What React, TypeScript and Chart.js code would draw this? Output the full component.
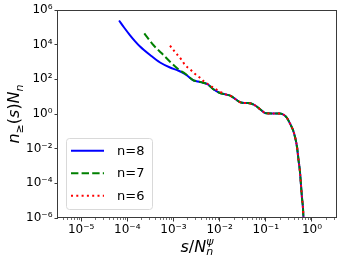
import React, { useEffect, useRef } from 'react';
import { Chart, registerables } from 'chart.js';

Chart.register(...registerables);

// ---- data ----
const seriesLabels = ['n=8', 'n=7', 'n=6'];
const seriesColors = ['#0000ff', '#008000', '#ff0000'];

// shared tail where all three curves coincide
const tailX = [2.65e-3, 3.40e-3, 4.38e-3, 5.61e-3, 7.19e-3, 1.02e-2, 1.38e-2, 1.77e-2, 2.26e-2, 2.90e-2, 3.72e-2, 4.79e-2, 6.14e-2, 7.87e-2, 0.101, 0.136, 0.203, 0.248, 0.288, 0.334, 0.388, 0.429, 0.473, 0.511, 0.550, 0.578, 0.608, 0.638, 0.671];
const tailY = [91.4, 74.8, 63.8, 50.2, 27.6, 16.3, 13.3, 10.9, 6.85, 4.59, 4.31, 4.03, 2.88, 1.70, 1.09, 1.07, 1.07, 0.873, 0.586, 0.282, 0.119, 0.047, 0.0129, 2.21e-3, 4.49e-4, 7.98e-5, 1.42e-5, 3.76e-6, 2.0e-7];

const n8HeadX = [6.65e-5, 8.53e-5, 1.15e-4, 1.48e-4, 1.89e-4, 3.12e-4, 5.13e-4, 8.43e-4, 1.26e-3, 1.53e-3, 1.97e-3];
const n8HeadY = [2.48e5, 9.78e4, 3.47e4, 1.56e4, 7.83e3, 2.53e3, 935, 481, 323, 254, 166];

const n7HeadX = [2.34e-4, 3.67e-4, 5.58e-4, 8.43e-4, 1.28e-3, 1.78e-3];
const n7HeadY = [4.53e4, 9.55e3, 3.17e3, 1.04e3, 378, 217];

const n6HeadX = [8.43e-4, 1.08e-3, 1.51e-3, 1.78e-3, 2.29e-3, 2.83e-3, 3.64e-3, 4.67e-3, 5.98e-3, 7.67e-3, 1.02e-2];
const n6HeadY = [8.71e3, 3.77e3, 1.30e3, 670, 378, 222, 131, 72.9, 47.0, 30.3, 19.3];
const n6TailStart = 6;

const xTickExponents = [-5, -4, -3, -2, -1, 0];
const yTickExponents = [-6, -4, -2, 0, 2, 4, 6];
const X_MIN = Math.pow(10, -5.5);
const X_MAX = Math.pow(10, 0.52);
const Y_MIN = 1e-6;
const Y_MAX = 1e6;

const SUP: Record<string, string> = { '-': '\u207B', '0': '\u2070', '1': '\u00B9', '2': '\u00B2', '3': '\u00B3', '4': '\u2074', '5': '\u2075', '6': '\u2076', '7': '\u2077', '8': '\u2078', '9': '\u2079' };
const pow10Label = (e: number) => '10' + String(e).split('').map((c) => SUP[c]).join('');
const expOf = (v: number): number | null => {
  const l = Math.log10(v);
  const r = Math.round(l);
  return Math.abs(l - r) < 1e-6 ? r : null;
};

const pts = (xs: number[], ys: number[]) => xs.map((x, i) => ({ x, y: ys[i] }));

const FRAME = '#3a3a3a';
const FONT = 'DejaVu Sans';

type Seg = { t: string; size: number; italic?: boolean; dy?: number; stackWithPrev?: boolean };

function drawRich(ctx: CanvasRenderingContext2D, segs: Seg[], cx: number, baseline: number) {
  const fontOf = (s: Seg) => `${s.italic ? 'italic ' : ''}${s.size}px "${FONT}"`;
  const widths = segs.map((s) => { ctx.font = fontOf(s); return ctx.measureText(s.t).width; });
  let total = 0;
  segs.forEach((s, i) => {
    if (s.stackWithPrev) total += Math.max(0, widths[i] - widths[i - 1]);
    else total += widths[i];
  });
  let x = cx - total / 2;
  let prevX = x;
  segs.forEach((s, i) => {
    ctx.font = fontOf(s);
    if (s.stackWithPrev) {
      ctx.fillText(s.t, prevX, baseline + (s.dy || 0));
      x = Math.max(x, prevX + widths[i]);
    } else {
      ctx.fillText(s.t, x, baseline + (s.dy || 0));
      prevX = x;
      x += widths[i];
    }
  });
}

const decorPlugin = {
  id: 'decor',
  afterDraw(chart: any) {
    const { ctx, chartArea: a, scales } = chart;
    ctx.save();
    // frame
    ctx.strokeStyle = FRAME;
    ctx.lineWidth = 1;
    ctx.strokeRect(a.left - 0.5, a.top + 0.5, a.right - a.left + 1, a.bottom - a.top - 1);

    // minor x ticks
    ctx.lineWidth = 0.7;
    for (let k = -6; k <= 1; k++) {
      for (let m = 2; m <= 9; m++) {
        const v = m * Math.pow(10, k);
        if (v < X_MIN || v > X_MAX) continue;
        const px = Math.round(scales.x.getPixelForValue(v)) + 0.5;
        ctx.beginPath();
        ctx.moveTo(px, a.bottom);
        ctx.lineTo(px, a.bottom + 2);
        ctx.stroke();
      }
    }

    // legend
    const lx = a.left + 8;
    const lw = 86;
    const lh = 71;
    const ly = a.bottom - 9 - lh;
    ctx.beginPath();
    ctx.roundRect(lx + 0.5, ly + 0.5, lw, lh, 3);
    ctx.fillStyle = 'rgba(255,255,255,0.8)';
    ctx.fill();
    ctx.strokeStyle = '#d9d9d9';
    ctx.lineWidth = 1;
    ctx.stroke();
    const dashes = [[], [7.4, 3.2], [2, 3.3]];
    seriesLabels.forEach((lab, i) => {
      const yy = ly + 12.7 + i * 22.5;
      ctx.beginPath();
      ctx.setLineDash(dashes[i]);
      ctx.strokeStyle = seriesColors[i];
      ctx.lineWidth = 2;
      ctx.moveTo(lx + 5, yy);
      ctx.lineTo(lx + 38, yy);
      ctx.stroke();
      ctx.setLineDash([]);
      ctx.fillStyle = '#000';
      ctx.font = `13px "${FONT}"`;
      ctx.textBaseline = 'middle';
      ctx.textAlign = 'left';
      ctx.fillText(lab, lx + 51, yy + 0.5);
    });

    // axis titles
    ctx.fillStyle = '#000';
    ctx.textBaseline = 'alphabetic';
    ctx.textAlign = 'left';
    drawRich(ctx, [
      { t: 's', size: 16, italic: true },
      { t: '/', size: 16 },
      { t: 'N', size: 16, italic: true },
      { t: '\u03C8', size: 11, italic: true, dy: -7 },
      { t: 'n', size: 11, italic: true, dy: 3.5, stackWithPrev: true },
    ], (a.left + a.right) / 2, 251.5);

    ctx.save();
    ctx.translate(19, (a.top + a.bottom) / 2);
    ctx.rotate(-Math.PI / 2);
    drawRich(ctx, [
      { t: 'n', size: 16, italic: true },
      { t: '\u2265', size: 11, dy: 3.5 },
      { t: '(', size: 16 },
      { t: 's', size: 16, italic: true },
      { t: ')', size: 16 },
      { t: 'N', size: 16, italic: true },
      { t: 'n', size: 11, italic: true, dy: 3.5 },
    ], 0, 0);
    ctx.restore();

    ctx.restore();
  },
};

export default function App() {
  const ref = useRef<HTMLCanvasElement>(null);
  useEffect(() => {
    const datasets = [
      { label: seriesLabels[0], data: pts(n8HeadX.concat(tailX), n8HeadY.concat(tailY)), borderColor: seriesColors[0], borderDash: [], order: 3 },
      { label: seriesLabels[1], data: pts(n7HeadX.concat(tailX), n7HeadY.concat(tailY)), borderColor: seriesColors[1], borderDash: [7.4, 3.2], order: 2 },
      { label: seriesLabels[2], data: pts(n6HeadX.concat(tailX.slice(n6TailStart)), n6HeadY.concat(tailY.slice(n6TailStart))), borderColor: seriesColors[2], borderDash: [2, 3.3], order: 1 },
    ].map((d) => ({ ...d, showLine: true, pointRadius: 0, borderWidth: 2, fill: false, cubicInterpolationMode: 'monotone' as const }));

    const chart = new Chart(ref.current!, {
      type: 'scatter',
      data: { datasets },
      options: {
        responsive: false,
        animation: false,
        devicePixelRatio: 1,
        layout: { padding: { left: 0, top: 10, right: 6, bottom: 0 } },
        plugins: { legend: { display: false }, tooltip: { enabled: false } },
        scales: {
          x: {
            type: 'logarithmic',
            min: X_MIN,
            max: X_MAX,
            border: { display: false },
            grid: { display: true, drawOnChartArea: false, drawTicks: true, tickLength: 3.5, tickColor: FRAME, tickWidth: 1 },
            ticks: {
              autoSkip: false,
              maxRotation: 0,
              padding: 1,
              color: '#000',
              font: { family: FONT, size: 12 },
              callback: (v: any) => {
                const e = expOf(Number(v));
                return e !== null && xTickExponents.includes(e) ? pow10Label(e) : null;
              },
            },
            afterFit: (s: any) => { s.height = 44; },
          },
          y: {
            type: 'logarithmic',
            min: Y_MIN,
            max: Y_MAX,
            border: { display: false },
            grid: { display: true, drawOnChartArea: false, drawTicks: true, tickLength: 3.5, tickColor: FRAME, tickWidth: 1 },
            ticks: {
              autoSkip: false,
              padding: 2,
              color: '#000',
              font: { family: FONT, size: 12 },
              callback: (v: any) => {
                const e = expOf(Number(v));
                return e !== null && yTickExponents.includes(e) ? pow10Label(e) : null;
              },
            },
            afterFit: (s: any) => { s.width = 58; },
          },
        },
      },
      plugins: [decorPlugin],
    } as any);
    return () => chart.destroy();
  }, []);
  return (
    <div style={{ position: 'absolute', left: 0, top: 0, width: 342, height: 262, background: '#fff' }}>
      <canvas ref={ref} width={342} height={262} style={{ display: 'block', width: 342, height: 262 }} />
    </div>
  );
}
